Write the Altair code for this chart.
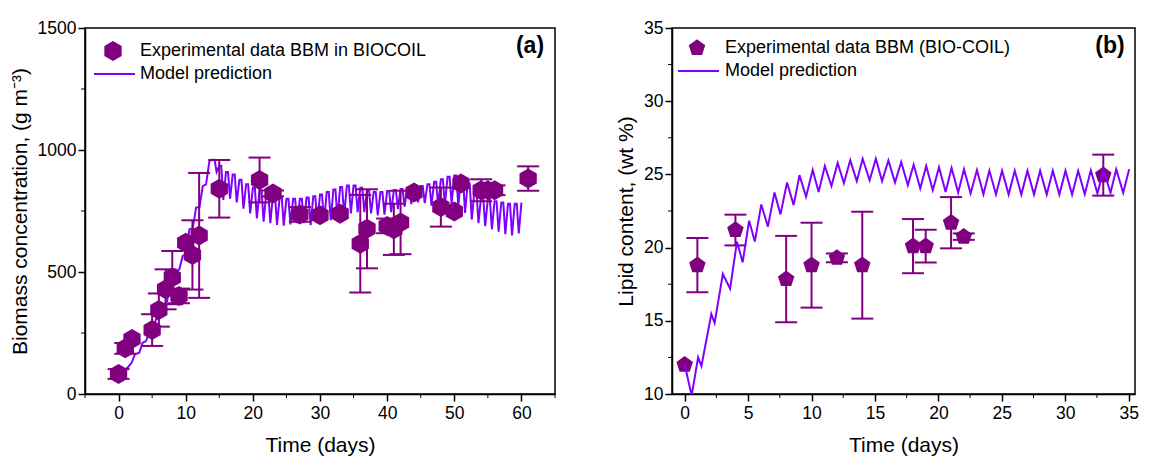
import altair as alt
import pandas as pd

# ---------------- data: panel (a) biomass ----------------
a_days = [0, 1, 2, 5, 6, 7, 8, 9, 10, 11, 12, 15, 21, 23, 27, 30, 33, 36, 37, 40, 41, 42, 44, 48, 50, 51, 54, 55, 56, 61]
a_vals = [82, 187, 225, 262, 344, 429, 477, 402, 620, 570, 650, 841, 877, 822, 736, 733, 739, 616, 677, 689, 675, 703, 826, 766, 748, 863, 835, 835, 835, 883]
a_err = [20, 22, 0, 65, 68, 82, 109, 30, 0, 142, 256, 118, 92, 12, 30, 0, 0, 200, 162, 30, 105, 130, 0, 80, 0, 0, 45, 0, 20, 50]

# model prediction (a): growth staircase, then daily peaks/troughs
a_stair_days = [0, 0.35, 1.34, 1.94, 2.44, 3.08, 3.58, 4.08, 4.58, 5.17, 5.57, 6.17, 6.57, 7.16, 7.66, 8.16, 8.56, 9.05, 9.55, 10.05, 10.55, 11.05, 11.54, 12.05, 12.54, 13.03, 13.53]
a_stair_vals = [64, 91, 108, 128, 163, 169, 210, 217, 251, 265, 306, 313, 367, 374, 436, 445, 504, 511, 566, 572, 675, 679, 764, 766, 852, 859, 955]
a_osc_days = list(range(14, 60))
a_peaks = [960, 935, 910, 900, 878, 860, 845, 835, 825, 815, 808, 800, 800, 800, 805, 810, 818, 828, 838, 848, 855, 855, 845, 835, 828, 828, 832, 836, 840, 845, 850, 852, 860, 870, 880, 890, 895, 888, 862, 832, 810, 798, 790, 785, 780, 780]
a_troughs = [910, 795, 800, 785, 760, 740, 720, 706, 700, 693, 690, 695, 700, 700, 692, 700, 705, 712, 720, 730, 740, 745, 745, 740, 732, 735, 745, 758, 768, 778, 785, 782, 772, 770, 775, 780, 770, 742, 715, 700, 688, 675, 665, 655, 650, 658]
a_end_day, a_end_val = 60, 784

# ---------------- data: panel (b) lipid ----------------
b_days = [0, 1, 4, 8, 10, 12, 14, 18, 19, 21, 22, 33]
b_vals = [12.0, 18.8, 21.2, 17.85, 18.8, 19.3, 18.8, 20.1, 20.1, 21.7, 20.75, 24.95]
b_err = [0, 1.85, 1.05, 2.95, 2.9, 0.3, 3.65, 1.85, 1.12, 1.75, 0.22, 1.4]

b_line_days = [0, 0.55, 1.06, 1.32, 2.1, 2.36, 3.01, 3.58, 4.12, 4.57, 5.08, 5.53, 6.04, 6.56, 7.08, 7.55, 8.07, 8.59, 9.05, 9.57, 10.09, 10.56, 11.05, 11.57, 12.06, 12.55, 13.05, 13.57, 14.03, 14.58, 15.07, 15.56, 16.06, 16.58, 17.07, 17.59, 18.05, 18.57, 19.04, 19.56, 20.05, 20.57, 21.04, 21.56, 22.02, 22.54, 23.04, 23.55, 24.02, 24.54, 25.02, 25.54, 26.02, 26.54, 27.02, 27.54, 28.02, 28.54, 29.02, 29.54, 30.02, 30.54, 31.02, 31.54, 32.02, 32.54, 33.02, 33.57, 34.02, 34.57, 35.04]
b_line_vals = [12.0, 9.9, 12.5, 11.9, 15.46, 14.85, 18.2, 17.2, 20.4, 19.0, 21.84, 20.41, 22.95, 21.43, 23.77, 22.27, 24.45, 22.9, 24.95, 23.47, 25.3, 23.8, 25.58, 24.2, 25.78, 24.4, 25.96, 24.54, 26.07, 24.6, 26.07, 24.54, 25.96, 24.45, 25.85, 24.27, 25.67, 24.04, 25.58, 23.92, 25.49, 23.8, 25.44, 23.76, 25.35, 23.7, 25.3, 23.65, 25.26, 23.63, 25.25, 23.62, 25.25, 23.62, 25.25, 23.62, 25.25, 23.62, 25.25, 23.62, 25.25, 23.62, 25.25, 23.65, 25.28, 23.7, 25.3, 23.75, 25.35, 23.75, 25.35]

# axes
a_xticks = [0, 10, 20, 30, 40, 50, 60]
a_xminor = [-5, 5, 15, 25, 35, 45, 55, 65]
a_yticks = [0, 500, 1000, 1500]
a_yminor = [250, 750, 1250]
b_xticks = [0, 5, 10, 15, 20, 25, 30, 35]
b_xminor = [2.5, 7.5, 12.5, 17.5, 22.5, 27.5, 32.5]
b_yticks = [10, 15, 20, 25, 30, 35]
b_yminor = [12.5, 17.5, 22.5, 27.5, 32.5]

PURPLE = "#800080"
VIOLET = "#8000FF"
FONT = "Liberation Sans"
HEX = "M0,-1L0.866,-0.5L0.866,0.5L0,1L-0.866,0.5L-0.866,-0.5Z"
PENT = "M0,-1L0.951,-0.309L0.588,0.809L-0.588,0.809L-0.951,-0.309Z"

W_A, W_B, H = 470, 463, 366

# build model line (a)
a_ld, a_lv = list(a_stair_days), list(a_stair_vals)
for d, p, t in zip(a_osc_days, a_peaks, a_troughs):
    a_ld += [d, d + 0.3, d + 0.6]
    a_lv += [p, p, t]
a_ld.append(a_end_day)
a_lv.append(a_end_val)


def panel(days, vals, errs, ld, lv, xdom, ydom, xt, xm, yt, ym, ytitle,
          shape, msize, leg_text, label, width, line_on_top, leg):
    pts = pd.DataFrame({"x": days, "y": vals, "e": errs})
    pts["lo"] = pts["y"] - pts["e"]
    pts["hi"] = pts["y"] + pts["e"]
    eb = pts[pts["e"] > 0]
    caps = pd.DataFrame({"x": list(eb["x"]) * 2, "y": list(eb["lo"]) + list(eb["hi"])})
    line = pd.DataFrame({"x": ld, "y": lv, "i": range(len(ld))})

    xax = alt.Axis(values=xt, title="Time (days)", tickSize=7, labelPadding=3,
                   titlePadding=13, grid=False, format="d")
    yax = alt.Axis(values=yt, title=ytitle, tickSize=7, labelPadding=2,
                   titlePadding=7, grid=False, format="d")
    xs = alt.Scale(domain=xdom, nice=False, zero=False)
    ys = alt.Scale(domain=ydom, nice=False, zero=False)
    X = lambda f: alt.X(f, type="quantitative", scale=xs, axis=xax)
    Y = lambda f: alt.Y(f, type="quantitative", scale=ys, axis=yax)

    rules = alt.Chart(eb).mark_rule(color=PURPLE, strokeWidth=2).encode(
        x=X("x"), y=Y("lo"), y2="hi")
    capm = alt.Chart(caps).mark_tick(color=PURPLE, thickness=2, size=22,
                                     orient="horizontal", opacity=1).encode(x=X("x"), y=Y("y"))
    lm = alt.Chart(line).mark_line(color=VIOLET, strokeWidth=2, clip=True).encode(
        x=X("x"), y=Y("y"), order="i:Q")
    pm = alt.Chart(pts).mark_point(filled=True, shape=shape, size=msize, color=PURPLE,
                                   opacity=1).encode(x=X("x"), y=Y("y"))
    ymin = alt.Chart(pd.DataFrame({"v": ym})).mark_rule(color="black", strokeWidth=1).encode(
        y=Y("v"), x=alt.value(0), x2=alt.value(-4))
    xmin = alt.Chart(pd.DataFrame({"v": xm})).mark_rule(color="black", strokeWidth=1).encode(
        x=X("v"), y=alt.value(H), y2=alt.value(H + 4))

    lx, ly1, ly2, tx, sx1, sx2 = leg
    leg_df = pd.DataFrame({"a": [0]})
    lp = alt.Chart(leg_df).mark_point(filled=True, shape=shape, size=msize, color=PURPLE,
                                      opacity=1).encode(x=alt.value(lx), y=alt.value(ly1))
    ll = alt.Chart(leg_df).mark_rule(color=VIOLET, strokeWidth=2).encode(
        x=alt.value(sx1), x2=alt.value(sx2), y=alt.value(ly2))
    lt1 = alt.Chart(leg_df).mark_text(text=leg_text, font=FONT, fontSize=18, align="left",
                                      baseline="middle", color="black").encode(
        x=alt.value(tx), y=alt.value(ly1))
    lt2 = alt.Chart(leg_df).mark_text(text="Model prediction", font=FONT, fontSize=18,
                                      align="left", baseline="middle", color="black").encode(
        x=alt.value(tx), y=alt.value(ly2))
    lab = alt.Chart(leg_df).mark_text(text=label, font=FONT, fontSize=23, fontWeight="bold",
                                      align="center", baseline="middle", color="black").encode(
        x=alt.value(width - 25), y=alt.value(18))

    if line_on_top:
        layers = [ymin, xmin, rules, capm, pm, lm]
    else:
        layers = [ymin, xmin, lm, rules, capm, pm]
    return alt.layer(*layers, lp, ll, lt1, lt2, lab).properties(width=width, height=H)


left = panel(a_days, a_vals, a_err, a_ld, a_lv, [-5, 65], [0, 1500],
             a_xticks, a_xminor, a_yticks, a_yminor, "Biomass concentration, (g m\u207b\u00b3)",
             HEX, 400, "Experimental data BBM in BIOCOIL", "(a)", W_A, False,
             (28, 23, 46, 55, 9, 50))
right = panel(b_days, b_vals, b_err, b_line_days, b_line_vals, [-1, 35.5], [10, 35],
              b_xticks, b_xminor, b_yticks, b_yminor, "Lipid content, (wt %)",
              PENT, 300, "Experimental data BBM (BIO-COIL)", "(b)", W_B, True,
              (25, 20, 43, 53, 6, 47))

chart = alt.hconcat(left, right, spacing=57).properties(
    padding={"left": 0, "top": 10, "right": 0, "bottom": 0},
    background="white"
).configure_view(stroke="black", strokeWidth=1.5).configure_axis(
    domainColor="black", tickColor="black", labelColor="black", titleColor="black",
    labelFont=FONT, titleFont=FONT, labelFontSize=17.5, titleFontSize=21,
    titleFontWeight="normal", domainWidth=1.5, tickWidth=1.5
)

chart.save("out.html", embed_options={"renderer": "svg", "actions": False})
